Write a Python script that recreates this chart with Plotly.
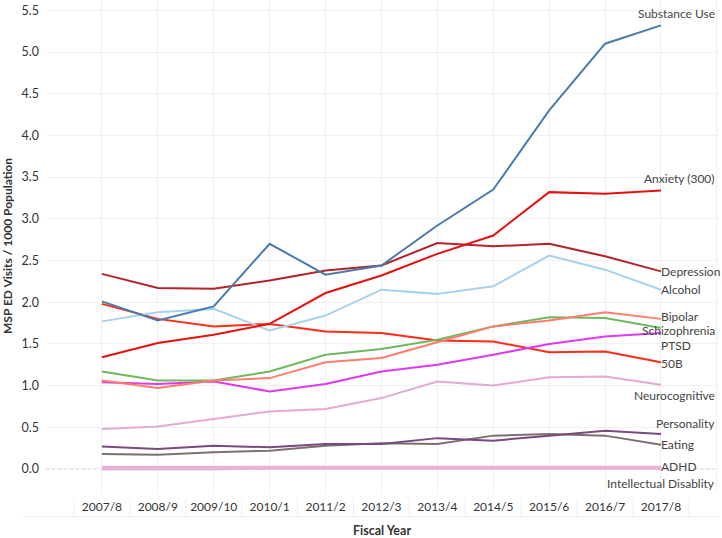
import plotly.graph_objects as go

years = ["2007/8", "2008/9", "2009/10", "2010/1", "2011/2", "2012/3",
         "2013/4", "2014/5", "2015/6", "2016/7", "2017/8"]

substance_use = [2.01, 1.78, 1.95, 2.70, 2.33, 2.44, 2.92, 3.35, 4.30, 5.10, 5.32]
anxiety = [1.34, 1.51, 1.61, 1.74, 2.11, 2.32, 2.58, 2.80, 3.32, 3.30, 3.34]
depression = [2.34, 2.17, 2.16, 2.26, 2.38, 2.44, 2.71, 2.67, 2.70, 2.55, 2.37]
alcohol = [1.77, 1.88, 1.92, 1.66, 1.84, 2.15, 2.10, 2.19, 2.56, 2.39, 2.15]
bipolar = [1.06, 0.97, 1.06, 1.09, 1.28, 1.33, 1.52, 1.71, 1.78, 1.88, 1.80]
schizophrenia = [1.17, 1.06, 1.06, 1.17, 1.37, 1.44, 1.55, 1.71, 1.82, 1.81, 1.69]
ptsd = [1.04, 1.02, 1.05, 0.93, 1.02, 1.17, 1.25, 1.37, 1.50, 1.59, 1.63]
s50b = [1.98, 1.80, 1.71, 1.74, 1.65, 1.63, 1.54, 1.53, 1.40, 1.41, 1.28]
neurocognitive = [0.48, 0.51, 0.60, 0.69, 0.72, 0.85, 1.05, 1.00, 1.10, 1.11, 1.01]
personality = [0.27, 0.24, 0.28, 0.26, 0.30, 0.30, 0.37, 0.34, 0.40, 0.46, 0.42]
eating = [0.18, 0.17, 0.20, 0.22, 0.28, 0.31, 0.30, 0.40, 0.42, 0.40, 0.29]
adhd = [0.02, 0.02, 0.02, 0.02, 0.02, 0.02, 0.02, 0.02, 0.02, 0.02, 0.02]
intellectual = [0.00, 0.00, 0.00, 0.01, 0.01, 0.01, 0.01, 0.01, 0.01, 0.01, 0.01]

y_ticks = [0.0, 0.5, 1.0, 1.5, 2.0, 2.5, 3.0, 3.5, 4.0, 4.5, 5.0, 5.5]

# name, values, colour, width, label anchor side, yshift
series = [
    ("Intellectual Disablity", intellectual, "#E2B3D6", 3, "right", -15),
    ("ADHD", adhd, "#E8B2D9", 3, "left", 1),
    ("Eating", eating, "#7B6F6F", 2, "left", 0),
    ("Personality", personality, "#7A4A7C", 2, "right", 10),
    ("Neurocognitive", neurocognitive, "#E3AAD4", 2, "right", -11),
    ("50B", s50b, "#FF2A17", 2, "left", -1),
    ("PTSD", ptsd, "#DC3AEF", 2, "left", -12),
    ("Schizophrenia", schizophrenia, "#6DBA5E", 2, "right", -2),
    ("Bipolar", bipolar, "#FF7D6C", 2, "left", 2),
    ("Alcohol", alcohol, "#A6D2EE", 2, "left", 0),
    ("Depression", depression, "#B3242A", 2, "left", 0),
    ("Anxiety (300)", anxiety, "#E5110E", 2, "right", 12),
    ("Substance Use", substance_use, "#4A7BAA", 2, "right", 12),
]

FONT = "Lato"
idx = list(range(len(years)))

fig = go.Figure()
for name, vals, color, w, side, ys in series:
    fig.add_trace(go.Scatter(x=idx, y=vals, mode="lines", name=name,
                             line=dict(color=color, width=w), showlegend=False))

annotations = []
last = idx[-1]
for name, vals, color, w, side, ys in series:
    if side == "left":
        annotations.append(dict(x=last, y=vals[-1], xref="x", yref="y", text=name,
                                showarrow=False, xanchor="left", yanchor="middle",
                                xshift=-1, yshift=ys, borderpad=0,
                                font=dict(family=FONT, size=12, color="#444")))
    else:
        annotations.append(dict(x=last, y=vals[-1], xref="x", yref="y", text=name,
                                showarrow=False, xanchor="right", yanchor="middle",
                                xshift=55, yshift=ys, borderpad=0,
                                font=dict(family=FONT, size=12, color="#444")))

shapes = [dict(type="line", xref="paper", yref="y", x0=0, x1=1, y0=0, y1=0,
               line=dict(color="#BDBDBD", width=1, dash="dot"), layer="below")]
# header cell separators below the plot
for i in range(-1, len(years) + 1):
    shapes.append(dict(type="line", xref="x", yref="paper", x0=i + 0.5, x1=i + 0.5,
                       y0=-0.012, y1=-0.05, line=dict(color="#EEEEEE", width=1)))
shapes.append(dict(type="line", xref="paper", yref="paper", x0=-0.034, x1=1,
                   y0=-0.05, y1=-0.05, line=dict(color="#EEEEEE", width=1)))

fig.update_layout(
    width=722, height=538,
    margin=dict(l=46, r=4, t=0, b=46),
    paper_bgcolor="white", plot_bgcolor="white",
    font=dict(family=FONT, size=12, color="#333"),
    xaxis=dict(range=[-1, 11.02], tickmode="array", automargin=False,
               tickvals=list(range(-1, len(years) + 1)),
               ticktext=[""] + years + [""],
               showgrid=True, gridcolor="#F0F0F0", gridwidth=1,
               zeroline=False, showline=False, ticks="", ticklabelstandoff=6,
               tickfont=dict(family=FONT, size=12, color="#333"),
               title=dict(text="<b>Fiscal Year</b>", standoff=16,
                          font=dict(family=FONT, size=12.5, color="#333"))),
    yaxis=dict(range=[-0.276, 5.624], tickmode="array", tickvals=y_ticks,
               automargin=False,
               ticktext=[f"{v:.1f}" for v in y_ticks],
               showgrid=True, gridcolor="#F0F0F0", gridwidth=1,
               zeroline=False, showline=False, ticks="", ticklabelstandoff=6,
               tickfont=dict(family=FONT, size=12.5, color="#333"),
               title=dict(text="<b>MSP ED Visits / 1000 Population</b>", standoff=8,
                          font=dict(family=FONT, size=12, color="#333"))),
    annotations=annotations,
    shapes=shapes,
)

fig.write_html("out.html", config={"displayModeBar": False},
               post_script="document.body.style.margin='0';document.body.style.padding='0';")
